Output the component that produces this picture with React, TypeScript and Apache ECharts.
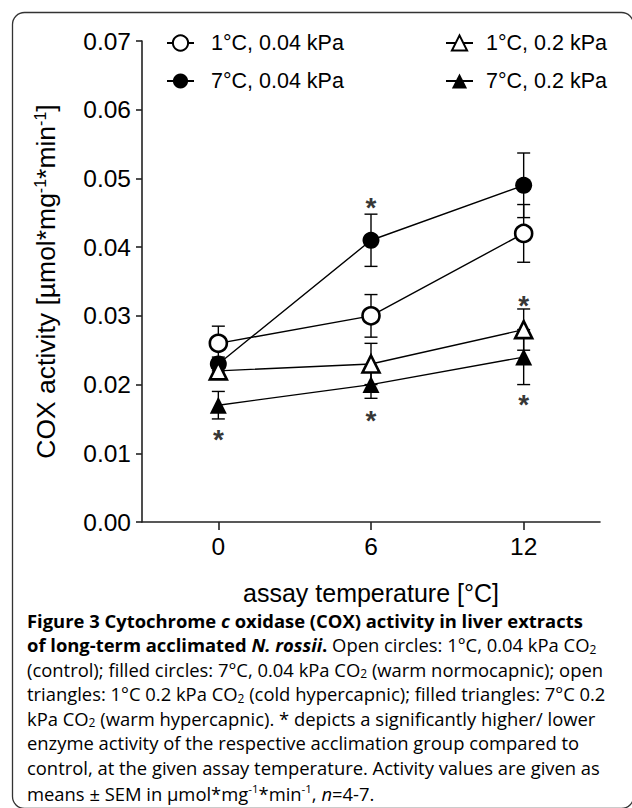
import React, { useEffect, useRef } from "react";
import * as echarts from "echarts";

// ---------- data ----------
const assayTemps = [0, 6, 12];
const xTickValues = [0, 6, 12];
const seriesNames = ["1°C, 0.04 kPa", "7°C, 0.04 kPa", "1°C, 0.2 kPa", "7°C, 0.2 kPa"];
const ctrlMean = [0.026, 0.03, 0.042];
const ctrlSem = [0.0025, 0.0031, 0.0042];
const warmNormMean = [0.023, 0.041, 0.049];
const warmNormSem = [0.001, 0.0038, 0.0047];
const coldHyperMean = [0.022, 0.023, 0.028];
const coldHyperSem = [0.001, 0.003, 0.003];
const warmHyperMean = [0.017, 0.02, 0.024];
const warmHyperSem = [0.002, 0.002, 0.004];
const asteriskX = [6, 12, 0, 6, 12];
const asteriskY = [0.047, 0.0327, 0.0131, 0.016, 0.0183];
const yMin = 0;
const yMax = 0.07;
const yInterval = 0.01;

const captionLines = [
  "{b|Figure 3 Cytochrome }{bi|c}{b| oxidase (COX) activity in liver extracts}",
  "{b|of long-term acclimated }{bi|N. rossii}{b|.}{n| Open circles: 1°C, 0.04 kPa CO}{sub|2}",
  "{n|(control); filled circles: 7°C, 0.04 kPa CO}{sub|2}{n| (warm normocapnic); open}",
  "{n|triangles: 1°C 0.2 kPa CO}{sub|2}{n| (cold hypercapnic); filled triangles: 7°C 0.2}",
  "{n|kPa CO}{sub|2}{n| (warm hypercapnic). * depicts a significantly higher/ lower}",
  "{n|enzyme activity of the respective acclimation group compared to}",
  "{n|control, at the given assay temperature. Activity values are given as}",
  "{n|means ± SEM in µmol*mg}{sup|-1}{n|*min}{sup|-1}{n|, }{i|n}{n|=4-7.}",
];

const groups = [
  { name: seriesNames[0], mean: ctrlMean, sem: ctrlSem, symbol: "circle", filled: false },
  { name: seriesNames[1], mean: warmNormMean, sem: warmNormSem, symbol: "circle", filled: true },
  { name: seriesNames[2], mean: coldHyperMean, sem: coldHyperSem, symbol: "triangle", filled: false },
  { name: seriesNames[3], mean: warmHyperMean, sem: warmHyperSem, symbol: "triangle", filled: true },
];

const FONT = "'Liberation Sans', Arial, sans-serif";
const CAP_FONT = "'Open Sans', 'Noto Sans', sans-serif";
const CAP_SIZE = 18.4;

export default function App() {
  const ref = useRef<HTMLDivElement>(null);
  useEffect(() => {
    document.body.style.margin = "0";
    const chart = echarts.init(ref.current!, null, { renderer: "svg" });

    const errorSeries = groups.map((g) => ({
      type: "custom",
      silent: true,
      z: 1,
      encode: { x: 0, y: [1, 2] },
      data: assayTemps.map((t, i) => [t, g.mean[i] - g.sem[i], g.mean[i] + g.sem[i]]),
      renderItem: (params: any, api: any) => {
        const x = api.value(0);
        const lo = api.coord([x, api.value(1)]);
        const hi = api.coord([x, api.value(2)]);
        const cw = 6.5;
        const st = { stroke: "#000", lineWidth: 1.4 };
        return {
          type: "group",
          children: [
            { type: "line", shape: { x1: lo[0], y1: lo[1], x2: hi[0], y2: hi[1] }, style: st },
            { type: "line", shape: { x1: hi[0] - cw, y1: hi[1], x2: hi[0] + cw, y2: hi[1] }, style: st },
            { type: "line", shape: { x1: lo[0] - cw, y1: lo[1], x2: lo[0] + cw, y2: lo[1] }, style: st },
          ],
        };
      },
    }));

    const lineSeries = groups.map((g) => ({
      type: "line",
      name: g.name,
      z: 3,
      data: assayTemps.map((t, i) => [t, g.mean[i]]),
      symbol: g.symbol,
      symbolSize: 17,
      showSymbol: true,
      lineStyle: { color: "#000", width: 1.4 },
      itemStyle: {
        color: g.filled ? "#000" : "#fff",
        borderColor: "#000",
        borderWidth: g.filled ? 0 : 2.6,
      },
      emphasis: { disabled: true },
    }));

    const asteriskSeries = {
      type: "scatter",
      silent: true,
      z: 4,
      symbol: "circle",
      symbolSize: 1,
      itemStyle: { color: "rgba(0,0,0,0)" },
      data: asteriskX.map((x, i) => [x, asteriskY[i]]),
      label: {
        show: true,
        position: "inside",
        formatter: "*",
        fontSize: 28,
        fontWeight: "bold",
        fontFamily: FONT,
        color: "#000",
        offset: [0, 8],
      },
    };

    const legendBase = {
      orient: "vertical",
      top: 27,
      itemWidth: 27,
      itemHeight: 19,
      itemGap: 16,
      selectedMode: false,
      textStyle: { fontSize: 21.5, fontFamily: FONT, color: "#000" },
    };

    const capRich = {
      b: { fontFamily: CAP_FONT, fontSize: CAP_SIZE, fontWeight: "bold", color: "#231f20", lineHeight: 21 },
      bi: { fontFamily: CAP_FONT, fontSize: CAP_SIZE, fontWeight: "bold", fontStyle: "italic", color: "#231f20", lineHeight: 21 },
      n: { fontFamily: CAP_FONT, fontSize: CAP_SIZE, color: "#3a3a3a", lineHeight: 21 },
      i: { fontFamily: CAP_FONT, fontSize: CAP_SIZE, fontStyle: "italic", color: "#3a3a3a", lineHeight: 21 },
      sub: { fontFamily: CAP_FONT, fontSize: 12, color: "#3a3a3a", lineHeight: 12, verticalAlign: "bottom" },
      sup: { fontFamily: CAP_FONT, fontSize: 11.5, color: "#3a3a3a", lineHeight: 14, verticalAlign: "top" },
    };

    const captionGraphics = captionLines.map((line, k) => ({
      type: "text",
      left: 27,
      top: 611 + k * 24.5,
      style: { text: line, rich: capRich },
    }));

    chart.setOption({
      animation: false,
      backgroundColor: "#fff",
      grid: { left: 142, right: 32, top: 41, bottom: 286 },
      legend: [
        { ...legendBase, left: 161, data: [seriesNames[0], seriesNames[1]], textStyle: { ...legendBase.textStyle, padding: [0, 0, 0, 12] } },
        { ...legendBase, left: 440, data: [seriesNames[2], seriesNames[3]], textStyle: { ...legendBase.textStyle, padding: [0, 0, 0, 8] } },
      ],
      xAxis: {
        type: "value",
        min: -3,
        max: 15,
        name: "assay temperature [°C]",
        nameLocation: "middle",
        nameGap: 58,
        nameTextStyle: { fontSize: 25, fontFamily: FONT, color: "#000" },
        axisLine: { show: true, onZero: false, lineStyle: { color: "#222", width: 1.6 } },
        axisTick: { show: true, length: 8, customValues: xTickValues, lineStyle: { color: "#222", width: 1.6 } },
        axisLabel: { customValues: xTickValues, margin: 12, fontSize: 24.5, fontFamily: FONT, color: "#000" },
        splitLine: { show: false },
      },
      yAxis: {
        type: "value",
        min: yMin,
        max: yMax,
        interval: yInterval,
        name: "COX activity [µmol*mg{sup|-1}*min{sup|-1}]",
        nameLocation: "middle",
        nameRotate: 90,
        nameGap: 83,
        nameTextStyle: {
          fontSize: 26.5,
          fontFamily: FONT,
          color: "#000",
          rich: { sup: { fontSize: 16, fontFamily: FONT, color: "#000", verticalAlign: "top", lineHeight: 17 } },
        },
        axisLine: { show: true, onZero: false, lineStyle: { color: "#222", width: 1.6 } },
        axisTick: { show: true, length: 6, lineStyle: { color: "#222", width: 1.6 } },
        axisLabel: {
          margin: 11,
          fontSize: 24.5,
          fontFamily: FONT,
          color: "#000",
          formatter: (v: number) => v.toFixed(2),
        },
        splitLine: { show: false },
      },
      graphic: [
        {
          type: "rect",
          silent: true,
          shape: { x: 12.5, y: 12.5, width: 621, height: 796, r: 12 },
          style: { fill: "none", stroke: "#333", lineWidth: 1.3 },
        },
        ...captionGraphics,
      ],
      series: [...errorSeries, ...lineSeries, asteriskSeries],
    });
    return () => chart.dispose();
  }, []);
  return <div ref={ref} style={{ width: 632, height: 808 }} />;
}
